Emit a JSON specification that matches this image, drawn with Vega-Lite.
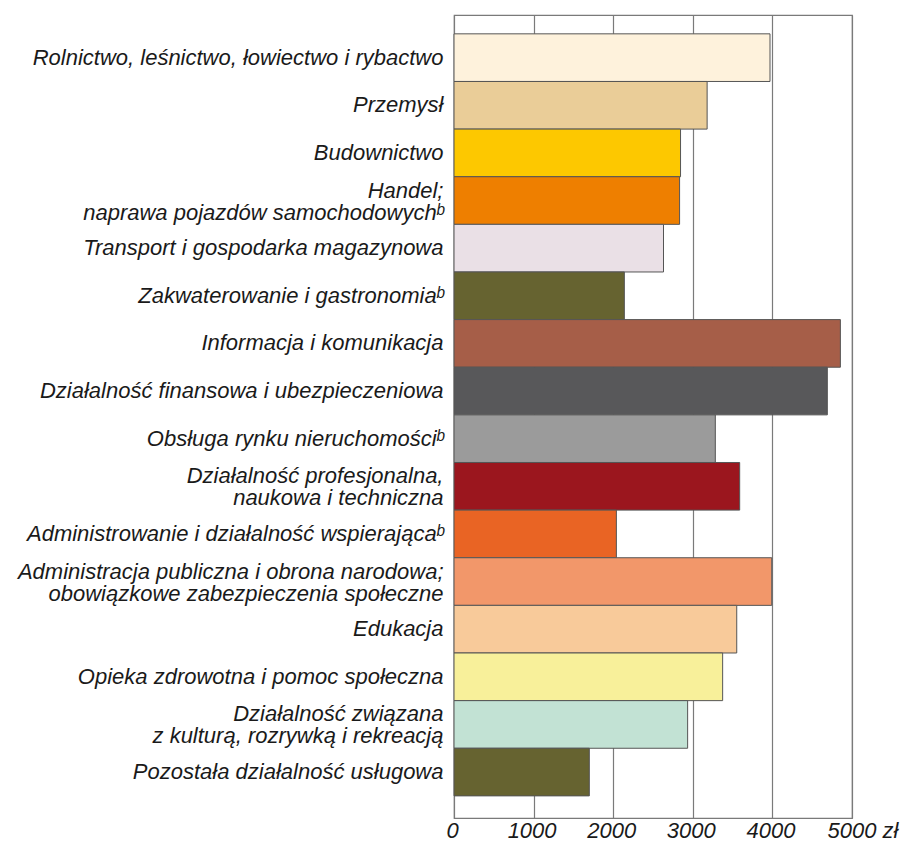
{
  "$schema": "https://vega.github.io/schema/vega-lite/v6.json",
  "autosize": "none",
  "width": 398,
  "height": 803,
  "padding": {"left": 454, "top": 15, "right": 50, "bottom": 31},
  "background": "white",
  "config": {
    "view": {"stroke": "#7a7a7a", "strokeWidth": 1.2},
    "font": "Liberation Sans"
  },
  "data": {
    "values": [
      {"dzial": "Rolnictwo, leśnictwo, łowiectwo i rybactwo", "wartosc": 3970, "kolor": "#FEF2DC"},
      {"dzial": "Przemysł", "wartosc": 3180, "kolor": "#EACD98"},
      {"dzial": "Budownictwo", "wartosc": 2846, "kolor": "#FDC800"},
      {"dzial": "Handel;|naprawa pojazdów samochodowychᵇ", "wartosc": 2834, "kolor": "#EE7F00"},
      {"dzial": "Transport i gospodarka magazynowa", "wartosc": 2632, "kolor": "#EAE0E6"},
      {"dzial": "Zakwaterowanie i gastronomiaᵇ", "wartosc": 2140, "kolor": "#666330"},
      {"dzial": "Informacja i komunikacja", "wartosc": 4854, "kolor": "#A65E48"},
      {"dzial": "Działalność finansowa i ubezpieczeniowa", "wartosc": 4690, "kolor": "#58585A"},
      {"dzial": "Obsługa rynku nieruchomościᵇ", "wartosc": 3283, "kolor": "#9B9B9B"},
      {"dzial": "Działalność profesjonalna,|naukowa i techniczna", "wartosc": 3589, "kolor": "#9B161E"},
      {"dzial": "Administrowanie i działalność wspierającaᵇ", "wartosc": 2040, "kolor": "#E96424"},
      {"dzial": "Administracja publiczna i obrona narodowa;|obowiązkowe zabezpieczenia społeczne", "wartosc": 3992, "kolor": "#F2976A"},
      {"dzial": "Edukacja", "wartosc": 3552, "kolor": "#F8CA9A"},
      {"dzial": "Opieka zdrowotna i pomoc społeczna", "wartosc": 3375, "kolor": "#F8F09A"},
      {"dzial": "Działalność związana|z kulturą, rozrywką i rekreacją", "wartosc": 2935, "kolor": "#C2E2D4"},
      {"dzial": "Pozostała działalność usługowa", "wartosc": 1700, "kolor": "#666330"}
    ]
  },
  "mark": {"type": "bar", "stroke": "#555555", "strokeWidth": 1},
  "encoding": {
    "y": {
      "field": "dzial",
      "type": "nominal",
      "sort": null,
      "scale": {"paddingInner": 0, "paddingOuter": 0.43, "align": 0.46},
      "axis": {
        "title": null,
        "ticks": false,
        "domain": false,
        "grid": false,
        "labelExpr": "split(datum.label, '|')",
        "labelFont": "Liberation Sans",
        "labelFontStyle": "italic",
        "labelFontSize": 22,
        "labelLineHeight": 22,
        "labelColor": "#1a1a1a",
        "labelPadding": 11,
        "labelLimit": 460,
        "labelOverlap": false,
        "labelOffset": {"condition": {"test": "indexof(datum.label, '|') >= 0", "value": -10}, "value": 0}
      }
    },
    "x": {
      "field": "wartosc",
      "type": "quantitative",
      "scale": {"domain": [0, 5000], "nice": false},
      "axis": {
        "title": null,
        "values": [0, 1000, 2000, 3000, 4000, 5000],
        "format": "d",
        "ticks": false,
        "domain": false,
        "grid": true,
        "gridColor": "#7a7a7a",
        "gridWidth": 1.2,
        "gridOpacity": 1,
        "labelFont": "Liberation Sans",
        "labelFontStyle": "italic",
        "labelFontSize": 22,
        "labelColor": "#1a1a1a",
        "labelPadding": 2,
        "labelFlush": false,
        "labelOverlap": false,
        "labelBound": false,
        "labelExpr": "datum.value == 5000 ? '5000 zł' : datum.label",
        "labelAlign": {"condition": {"test": "datum.value == 5000", "value": "left"}, "value": "center"},
        "labelOffset": {"condition": {"test": "datum.value == 5000", "value": -25}, "value": -2}
      }
    },
    "fill": {"field": "kolor", "type": "nominal", "scale": null, "legend": null}
  }
}
